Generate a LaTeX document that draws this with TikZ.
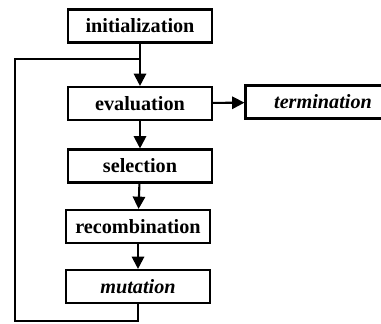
\documentclass[tikz,border=0pt]{standalone}
\usepackage{fontspec}
\setmainfont{Liberation Serif}
\usetikzlibrary{arrows.meta,positioning,calc}

\begin{document}
\begin{tikzpicture}[line width=1.2pt, >={Triangle[length=7pt,width=7pt]},
  main node/.style={rectangle,draw,minimum width=2.88cm,minimum height=0.66cm,inner sep=0pt,font=\fontsize{11.5}{13}\selectfont\bfseries}]
\useasboundingbox (0,0) rectangle (7.62,-6.46);
\begin{scope}
\node[main node] (init) at (2.80,-0.52) {initialization};
\node[main node] (eval) at (2.80,-2.07) {evaluation};
\node[main node,minimum width=3.1cm] (term) at (6.46,-2.04) {\itshape termination};
\node[main node] (sel) at (2.80,-3.32) {selection};
\node[main node] (recomb) at (2.76,-4.53) {recombination};
\node[main node] (mut) at (2.76,-5.73) {\itshape mutation};
\end{scope}
\coordinate (join) at (2.80,-1.18);
\coordinate (c1) at (0.30,-6.42);
\coordinate (c2) at (0.30,-1.18);
\begin{scope}
\draw[->] (init) -- (eval);
\draw[->] (eval) -- (term);
\draw[->] (eval) -- (sel);
\draw[->] (sel) -- (recomb);
\draw[->] (recomb) -- (mut);
\draw (mut.south) -- (mut.south |- c1) -- (c1) -- (c2) -- (join);
\end{scope}
\end{tikzpicture}
\end{document}
